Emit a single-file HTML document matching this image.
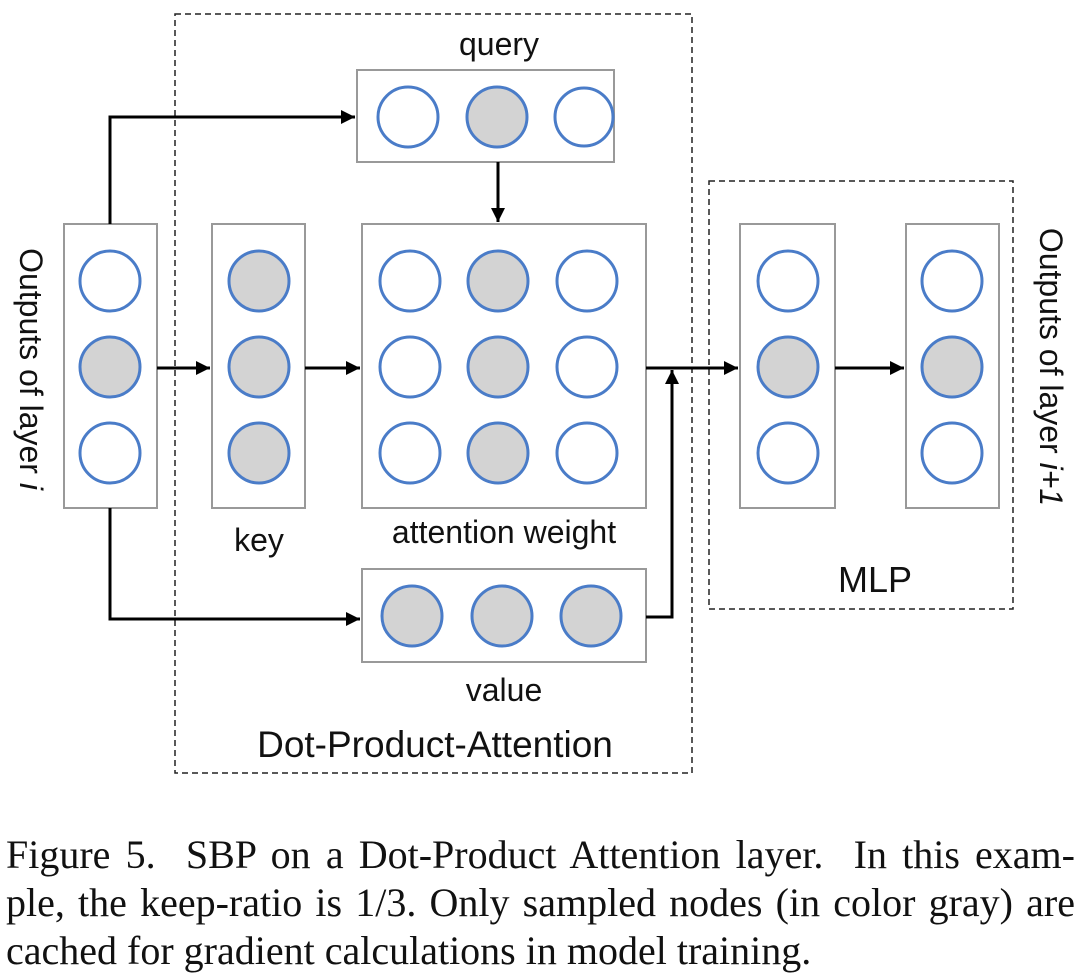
<!DOCTYPE html>
<html><head><meta charset="utf-8"><style>
html,body{margin:0;padding:0;background:#fff;width:1080px;height:969px;overflow:hidden}
.cap{position:absolute;left:6px;width:1069px;font-family:"Liberation Serif",serif;font-size:40px;color:#111;white-space:nowrap;text-align:justify;text-align-last:justify;line-height:46px}
.cap.l{text-align:left;text-align-last:left}
</style></head><body>
<svg width="1080" height="800" style="position:absolute;left:0;top:0" xmlns="http://www.w3.org/2000/svg">
<defs>
<marker id="h" viewBox="0 0 10 10" refX="10" refY="5" markerWidth="18" markerHeight="14" orient="auto" markerUnits="userSpaceOnUse"><path d="M0,0 L10,5 L0,10 Z" fill="#000"/></marker></defs>
<g fill="none" stroke="#222" stroke-width="1.5" stroke-dasharray="6,4">
<rect x="175" y="14" width="517" height="759"/>
<rect x="709" y="181" width="304" height="428"/>
</g>
<g fill="#fff" stroke="#999" stroke-width="2">
<rect x="357" y="70" width="257" height="92"/>
<rect x="64" y="224" width="93" height="284"/>
<rect x="212" y="224" width="93" height="284"/>
<rect x="362" y="224" width="284" height="284"/>
<rect x="362" y="569" width="284" height="93"/>
<rect x="740" y="224" width="95" height="284"/>
<rect x="906" y="224" width="93" height="284"/>
</g>
<g stroke="#4a7cc8" stroke-width="3">
<circle cx="408" cy="117" r="30" fill="#fff"/><circle cx="497" cy="117" r="30" fill="#d3d3d3"/><circle cx="584" cy="117" r="29" fill="#fff"/>
<circle cx="110" cy="281" r="30" fill="#fff"/><circle cx="110" cy="367" r="30" fill="#d3d3d3"/><circle cx="110" cy="453" r="30" fill="#fff"/>
<circle cx="259" cy="281" r="30" fill="#d3d3d3"/><circle cx="259" cy="367" r="30" fill="#d3d3d3"/><circle cx="259" cy="453" r="30" fill="#d3d3d3"/>
<circle cx="410" cy="281" r="30" fill="#fff"/><circle cx="498" cy="281" r="30" fill="#d3d3d3"/><circle cx="587" cy="281" r="30" fill="#fff"/>
<circle cx="410" cy="367" r="30" fill="#fff"/><circle cx="498" cy="367" r="30" fill="#d3d3d3"/><circle cx="587" cy="367" r="30" fill="#fff"/>
<circle cx="410" cy="453" r="30" fill="#fff"/><circle cx="498" cy="453" r="30" fill="#d3d3d3"/><circle cx="587" cy="453" r="30" fill="#fff"/>
<circle cx="412" cy="616" r="30" fill="#d3d3d3"/><circle cx="502" cy="616" r="30" fill="#d3d3d3"/><circle cx="591" cy="616" r="30" fill="#d3d3d3"/>
<circle cx="788" cy="281" r="30" fill="#fff"/><circle cx="788" cy="367" r="30" fill="#d3d3d3"/><circle cx="788" cy="453" r="30" fill="#fff"/>
<circle cx="952" cy="281" r="30" fill="#fff"/><circle cx="952" cy="367" r="30" fill="#d3d3d3"/><circle cx="952" cy="453" r="30" fill="#fff"/>
</g>
<g fill="none" stroke="#000" stroke-width="3">
<path d="M110,224 V117 H355" marker-end="url(#h)"/>
<path d="M110,508 V619 H360" marker-end="url(#h)"/>
<path d="M157,368 H210" marker-end="url(#h)"/>
<path d="M305,368 H360" marker-end="url(#h)"/>
<path d="M498,162 V222" marker-end="url(#h)"/>
<path d="M646,368 H738" marker-end="url(#h)"/>
<path d="M646,617 H672 V370" marker-end="url(#h)"/>
<path d="M835,368 H904" marker-end="url(#h)"/>
</g>
<g font-family="Liberation Sans, sans-serif" fill="#111" text-anchor="middle">
<text x="499" y="55" font-size="32">query</text>
<text x="259" y="551" font-size="32">key</text>
<text x="504" y="543" font-size="32">attention weight</text>
<text x="504" y="701" font-size="32">value</text>
<text x="435" y="757" font-size="37">Dot-Product-Attention</text>
<text x="875" y="592" font-size="36">MLP</text>
<text transform="translate(20,369) rotate(90)" font-size="32">Outputs of layer <tspan font-style="italic">i</tspan></text>
<text transform="translate(1040,367) rotate(90)" font-size="32">Outputs of layer <tspan font-style="italic">i+1</tspan></text>
</g>
</svg>
<div class="cap" style="top:832px">Figure 5.&nbsp; SBP on a Dot-Product Attention layer.&nbsp; In this exam-</div>
<div class="cap" style="top:880px">ple, the keep-ratio is 1/3. Only sampled nodes (in color gray) are</div>
<div class="cap l" style="top:928px">cached for gradient calculations in model training.</div>
</body></html>
